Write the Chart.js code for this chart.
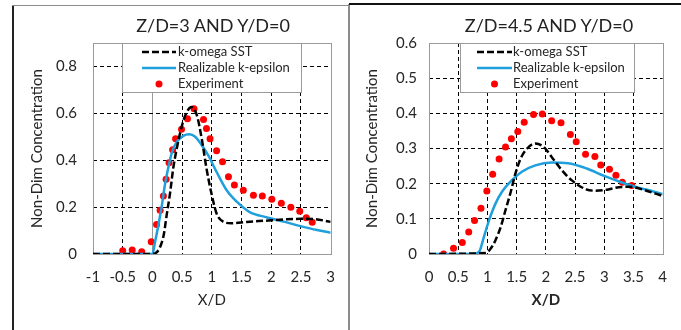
<!DOCTYPE html>
<html>
<head>
<meta charset="utf-8">
<script src="https://cdn.jsdelivr.net/npm/chart.js@4.4.1/dist/chart.umd.min.js"></script>
<style>
  html, body { margin: 0; padding: 0; background: #fff; }
  #wrap  { position: relative; width: 681px; height: 330px; overflow: hidden; font-family: Lato, 'Liberation Sans', sans-serif; }
  .box   { position: absolute; }
  .title { position: absolute; top: 14px; font-size: 18px; color: #222; white-space: nowrap; transform: translateX(-50%); }
  .rule  { position: absolute; pointer-events: none; }
</style>
</head>
<body>
<div id="wrap">
  <div class="box" style="left:0;top:0;width:349px;height:330px"><canvas id="chart3"></canvas></div>
  <div class="box" style="left:349px;top:0;width:332px;height:330px"><canvas id="chart45"></canvas></div>

  <div class="title" style="left:213px">Z/D=3 AND Y/D=0</div>
  <div class="title" style="left:549px">Z/D=4.5 AND Y/D=0</div>

  <!-- panel frames -->
  <div class="rule" style="left:12px;top:5px;width:2px;height:325px;background:#222"></div>
  <div class="rule" style="left:12px;top:5px;width:337px;height:1px;background:#8c8c8c"></div>
  <div class="rule" style="left:348px;top:4px;width:2px;height:326px;background:#8c8c8c"></div>
  <div class="rule" style="left:349px;top:3px;width:332px;height:2px;background:#111"></div>
</div>

<script>
// ─────────────────────────────────────────
//  DATA
// ─────────────────────────────────────────
const LABELS = ['k-omega SST', 'Realizable k-epsilon', 'Experiment'];

// Z/D=3
const sst3X = [-1, 0, 0.05, 0.13, 0.19, 0.24, 0.30, 0.35, 0.41, 0.47, 0.55, 0.66, 0.75, 0.83, 0.91, 1.00, 1.08, 1.19, 1.33, 1.59, 1.90, 2.20, 2.50, 2.75, 3.00];
const sst3Y = [0, 0, 0.003, 0.03, 0.081, 0.166, 0.265, 0.365, 0.45, 0.52, 0.59, 0.627, 0.59, 0.492, 0.365, 0.251, 0.173, 0.138, 0.131, 0.137, 0.142, 0.147, 0.15, 0.148, 0.137];

const rke3X = [-1, 0, 0.045, 0.10, 0.16, 0.21, 0.27, 0.33, 0.41, 0.52, 0.62, 0.72, 0.83, 0.94, 1.08, 1.25, 1.42, 1.63, 1.93, 2.21, 2.49, 2.77, 3.00];
const rke3Y = [0, 0, 0.052, 0.123, 0.209, 0.294, 0.372, 0.435, 0.478, 0.504, 0.511, 0.50, 0.464, 0.421, 0.35, 0.272, 0.223, 0.18, 0.156, 0.138, 0.119, 0.102, 0.091];

const exp3X = [-0.50, -0.34, -0.18, -0.02, 0.07, 0.13, 0.185, 0.23, 0.28, 0.34, 0.39, 0.49, 0.59, 0.70, 0.86, 0.91, 0.97, 1.08, 1.18, 1.28, 1.38, 1.53, 1.70, 1.85, 2.01, 2.17, 2.33, 2.48, 2.59, 2.69];
const exp3Y = [0.014, 0.017, 0.010, 0.052, 0.126, 0.187, 0.247, 0.319, 0.389, 0.445, 0.492, 0.532, 0.577, 0.62, 0.574, 0.535, 0.492, 0.44, 0.393, 0.329, 0.294, 0.272, 0.251, 0.247, 0.233, 0.216, 0.199, 0.182, 0.155, 0.135];

// Z/D=4.5
const sst45X = [0, 0.97, 1.06, 1.14, 1.23, 1.31, 1.40, 1.48, 1.57, 1.68, 1.82, 1.96, 2.10, 2.27, 2.44, 2.69, 2.85, 3.05, 3.25, 3.45, 3.68, 4.00];
const sst45Y = [0, 0.003, 0.016, 0.04, 0.078, 0.125, 0.177, 0.229, 0.272, 0.30, 0.314, 0.305, 0.276, 0.239, 0.21, 0.184, 0.18, 0.183, 0.19, 0.191, 0.182, 0.165];

const rke45X = [0, 0.75, 0.86, 0.94, 1.03, 1.14, 1.25, 1.42, 1.59, 1.82, 2.10, 2.38, 2.70, 3.00, 3.29, 3.57, 3.80, 4.00];
const rke45Y = [0, 0, 0.007, 0.049, 0.097, 0.144, 0.177, 0.21, 0.234, 0.252, 0.26, 0.258, 0.243, 0.222, 0.204, 0.189, 0.18, 0.17];

const exp45X = [0.25, 0.42, 0.57, 0.68, 0.78, 0.89, 0.99, 1.09, 1.20, 1.31, 1.41, 1.52, 1.63, 1.79, 1.94, 2.10, 2.26, 2.42, 2.52, 2.68, 2.84, 2.94, 3.09, 3.20, 3.31, 3.47];
const exp45Y = [0, 0.016, 0.033, 0.0625, 0.095, 0.13, 0.179, 0.227, 0.27, 0.304, 0.328, 0.348, 0.375, 0.397, 0.398, 0.379, 0.373, 0.34, 0.319, 0.284, 0.277, 0.253, 0.241, 0.224, 0.204, 0.195];

// ─────────────────────────────────────────
//  STYLE
// ─────────────────────────────────────────
const FONT      = "Lato, 'Liberation Sans', sans-serif";
const TEXT      = '#262626';
const FRAME     = '#9a9a9a';
const BLUE      = '#1f9fdc';
const RED       = '#ff0000';
const GRID_DASH = [4, 3];

const pts = (xs, ys) => xs.map((x, i) => ({ x, y: ys[i] }));
const fmt = v => String(Number(v.toFixed(2)));   // 1.0 -> "1", 0.5 -> "0.5"

function makeDatasets(sx, sy, rx, ry, ex, ey) {
  return [
    {
      label: LABELS[0], data: pts(sx, sy), showLine: true,
      borderColor: '#000', borderWidth: 2.5, borderDash: [7, 3],
      pointRadius: 0, cubicInterpolationMode: 'monotone',
    },
    {
      label: LABELS[1], data: pts(rx, ry), showLine: true,
      borderColor: BLUE, borderWidth: 2.5,
      pointRadius: 0, cubicInterpolationMode: 'monotone',
    },
    {
      label: LABELS[2], data: pts(ex, ey), showLine: false,
      pointRadius: 3.5, pointBackgroundColor: RED, pointBorderWidth: 0,
    },
  ];
}

// ── plugins: plot frame + boxed legend inside the plot ─────
const framePlugin = {
  id: 'frame',
  beforeDatasetsDraw(chart) {
    const { ctx, chartArea: a } = chart;
    ctx.save();
    ctx.strokeStyle = FRAME;
    ctx.lineWidth = 1;
    ctx.strokeRect(Math.round(a.left) + 0.5, Math.round(a.top) + 0.5,
                   Math.round(a.right - a.left), Math.round(a.bottom - a.top));
    ctx.restore();
  },
};

const boxLegend = {
  id: 'boxLegend',
  afterDatasetsDraw(chart, args, o) {
    const { ctx, chartArea: a } = chart;
    const x = Math.round(a.left + o.dx), y = Math.round(a.top);
    ctx.save();
    ctx.fillStyle = '#fff';
    ctx.fillRect(x, y, o.w, o.h);
    ctx.strokeStyle = FRAME;
    ctx.lineWidth = 1;
    ctx.strokeRect(x + 0.5, y + 0.5, o.w, o.h);
    ctx.font = '13px ' + FONT;
    ctx.textBaseline = 'middle';
    chart.data.datasets.forEach((ds, i) => {
      const cy = y + o.rows[i];
      const x0 = x + o.sx, x1 = x0 + o.sw;
      if (ds.showLine) {
        ctx.strokeStyle = ds.borderColor;
        ctx.lineWidth = ds.borderWidth;
        ctx.setLineDash(ds.borderDash || []);
        ctx.beginPath(); ctx.moveTo(x0, cy); ctx.lineTo(x1, cy); ctx.stroke();
        ctx.setLineDash([]);
      } else {
        ctx.fillStyle = ds.pointBackgroundColor;
        ctx.beginPath(); ctx.arc((x0 + x1) / 2, cy, ds.pointRadius, 0, Math.PI * 2); ctx.fill();
      }
      ctx.fillStyle = TEXT;
      ctx.fillText(ds.label, x + o.tx, cy);
    });
    ctx.restore();
  },
};

// ── shared options builder ─────────────────────────────────
function makeOptions(cfg) {
  const edge = (c, min, max) => c.tick && (c.tick.value === min || c.tick.value === max);
  return {
    responsive: true,
    maintainAspectRatio: false,
    animation: false,
    layout: { padding: { top: 43, right: cfg.padRight, bottom: 0, left: 0 } },
    plugins: {
      legend: { display: false },
      tooltip: { enabled: false },
      boxLegend: cfg.legend,
    },
    scales: {
      x: {
        type: 'linear', min: cfg.xMin, max: cfg.xMax,
        afterFit: s => { s.height = 76; },
        ticks: { stepSize: 0.5, color: TEXT, font: { family: FONT, size: 15 }, padding: 14, maxRotation: 0, callback: fmt },
        grid: {
          drawTicks: false, lineWidth: 1,
          color: c => (cfg.zeroLine && c.tick && c.tick.value === 0) ? FRAME
                    : edge(c, cfg.xMin, cfg.xMax) ? 'rgba(0,0,0,0)' : '#000',
        },
        border: { display: false, dash: c => (cfg.zeroLine && c.tick && c.tick.value === 0) ? [] : GRID_DASH },
        title: {
          display: true, text: 'X/D', color: TEXT,
          font: { family: FONT, size: 15, weight: cfg.boldX ? 'bold' : 'normal' },
          padding: { top: 0, bottom: 21 },
        },
      },
      y: {
        type: 'linear', min: 0, max: cfg.yMax,
        afterFit: s => { s.width = cfg.yWidth; },
        ticks: { stepSize: cfg.yStep, includeBounds: false, color: TEXT, font: { family: FONT, size: 15 }, padding: cfg.yTickPad, callback: fmt },
        grid: {
          drawTicks: false, lineWidth: 1,
          color: c => edge(c, 0, cfg.yMax) ? 'rgba(0,0,0,0)' : '#000',
        },
        border: { display: false, dash: GRID_DASH },
        title: {
          display: true, text: 'Non-Dim Concentration', color: TEXT,
          font: { family: FONT, size: 15 },
          padding: { top: cfg.yTitlePad, bottom: 0 },
        },
      },
    },
  };
}

// ─────────────────────────────────────────
//  CHARTS
// ─────────────────────────────────────────
new Chart(document.getElementById('chart3'), {
  type: 'scatter',
  data: { datasets: makeDatasets(sst3X, sst3Y, rke3X, rke3Y, exp3X, exp3Y) },
  options: makeOptions({
    xMin: -1, xMax: 3, yMax: 0.9, yStep: 0.2,
    padRight: 18, yWidth: 93, yTickPad: 16, yTitlePad: 28,
    zeroLine: true, boldX: false,
    legend: { dx: 29, w: 179, h: 49, sx: 20, sw: 34, tx: 56, rows: [9, 25, 41] },
  }),
  plugins: [framePlugin, boxLegend],
});

new Chart(document.getElementById('chart45'), {
  type: 'scatter',
  data: { datasets: makeDatasets(sst45X, sst45Y, rke45X, rke45Y, exp45X, exp45Y) },
  options: makeOptions({
    xMin: 0, xMax: 4, yMax: 0.6, yStep: 0.1,
    padRight: 16, yWidth: 80, yTickPad: 12, yTitlePad: 14,
    zeroLine: false, boldX: true,
    legend: { dx: 31, w: 174, h: 49, sx: 17, sw: 35, tx: 53, rows: [9, 25, 41] },
  }),
  plugins: [framePlugin, boxLegend],
});
</script>
</body>
</html>
